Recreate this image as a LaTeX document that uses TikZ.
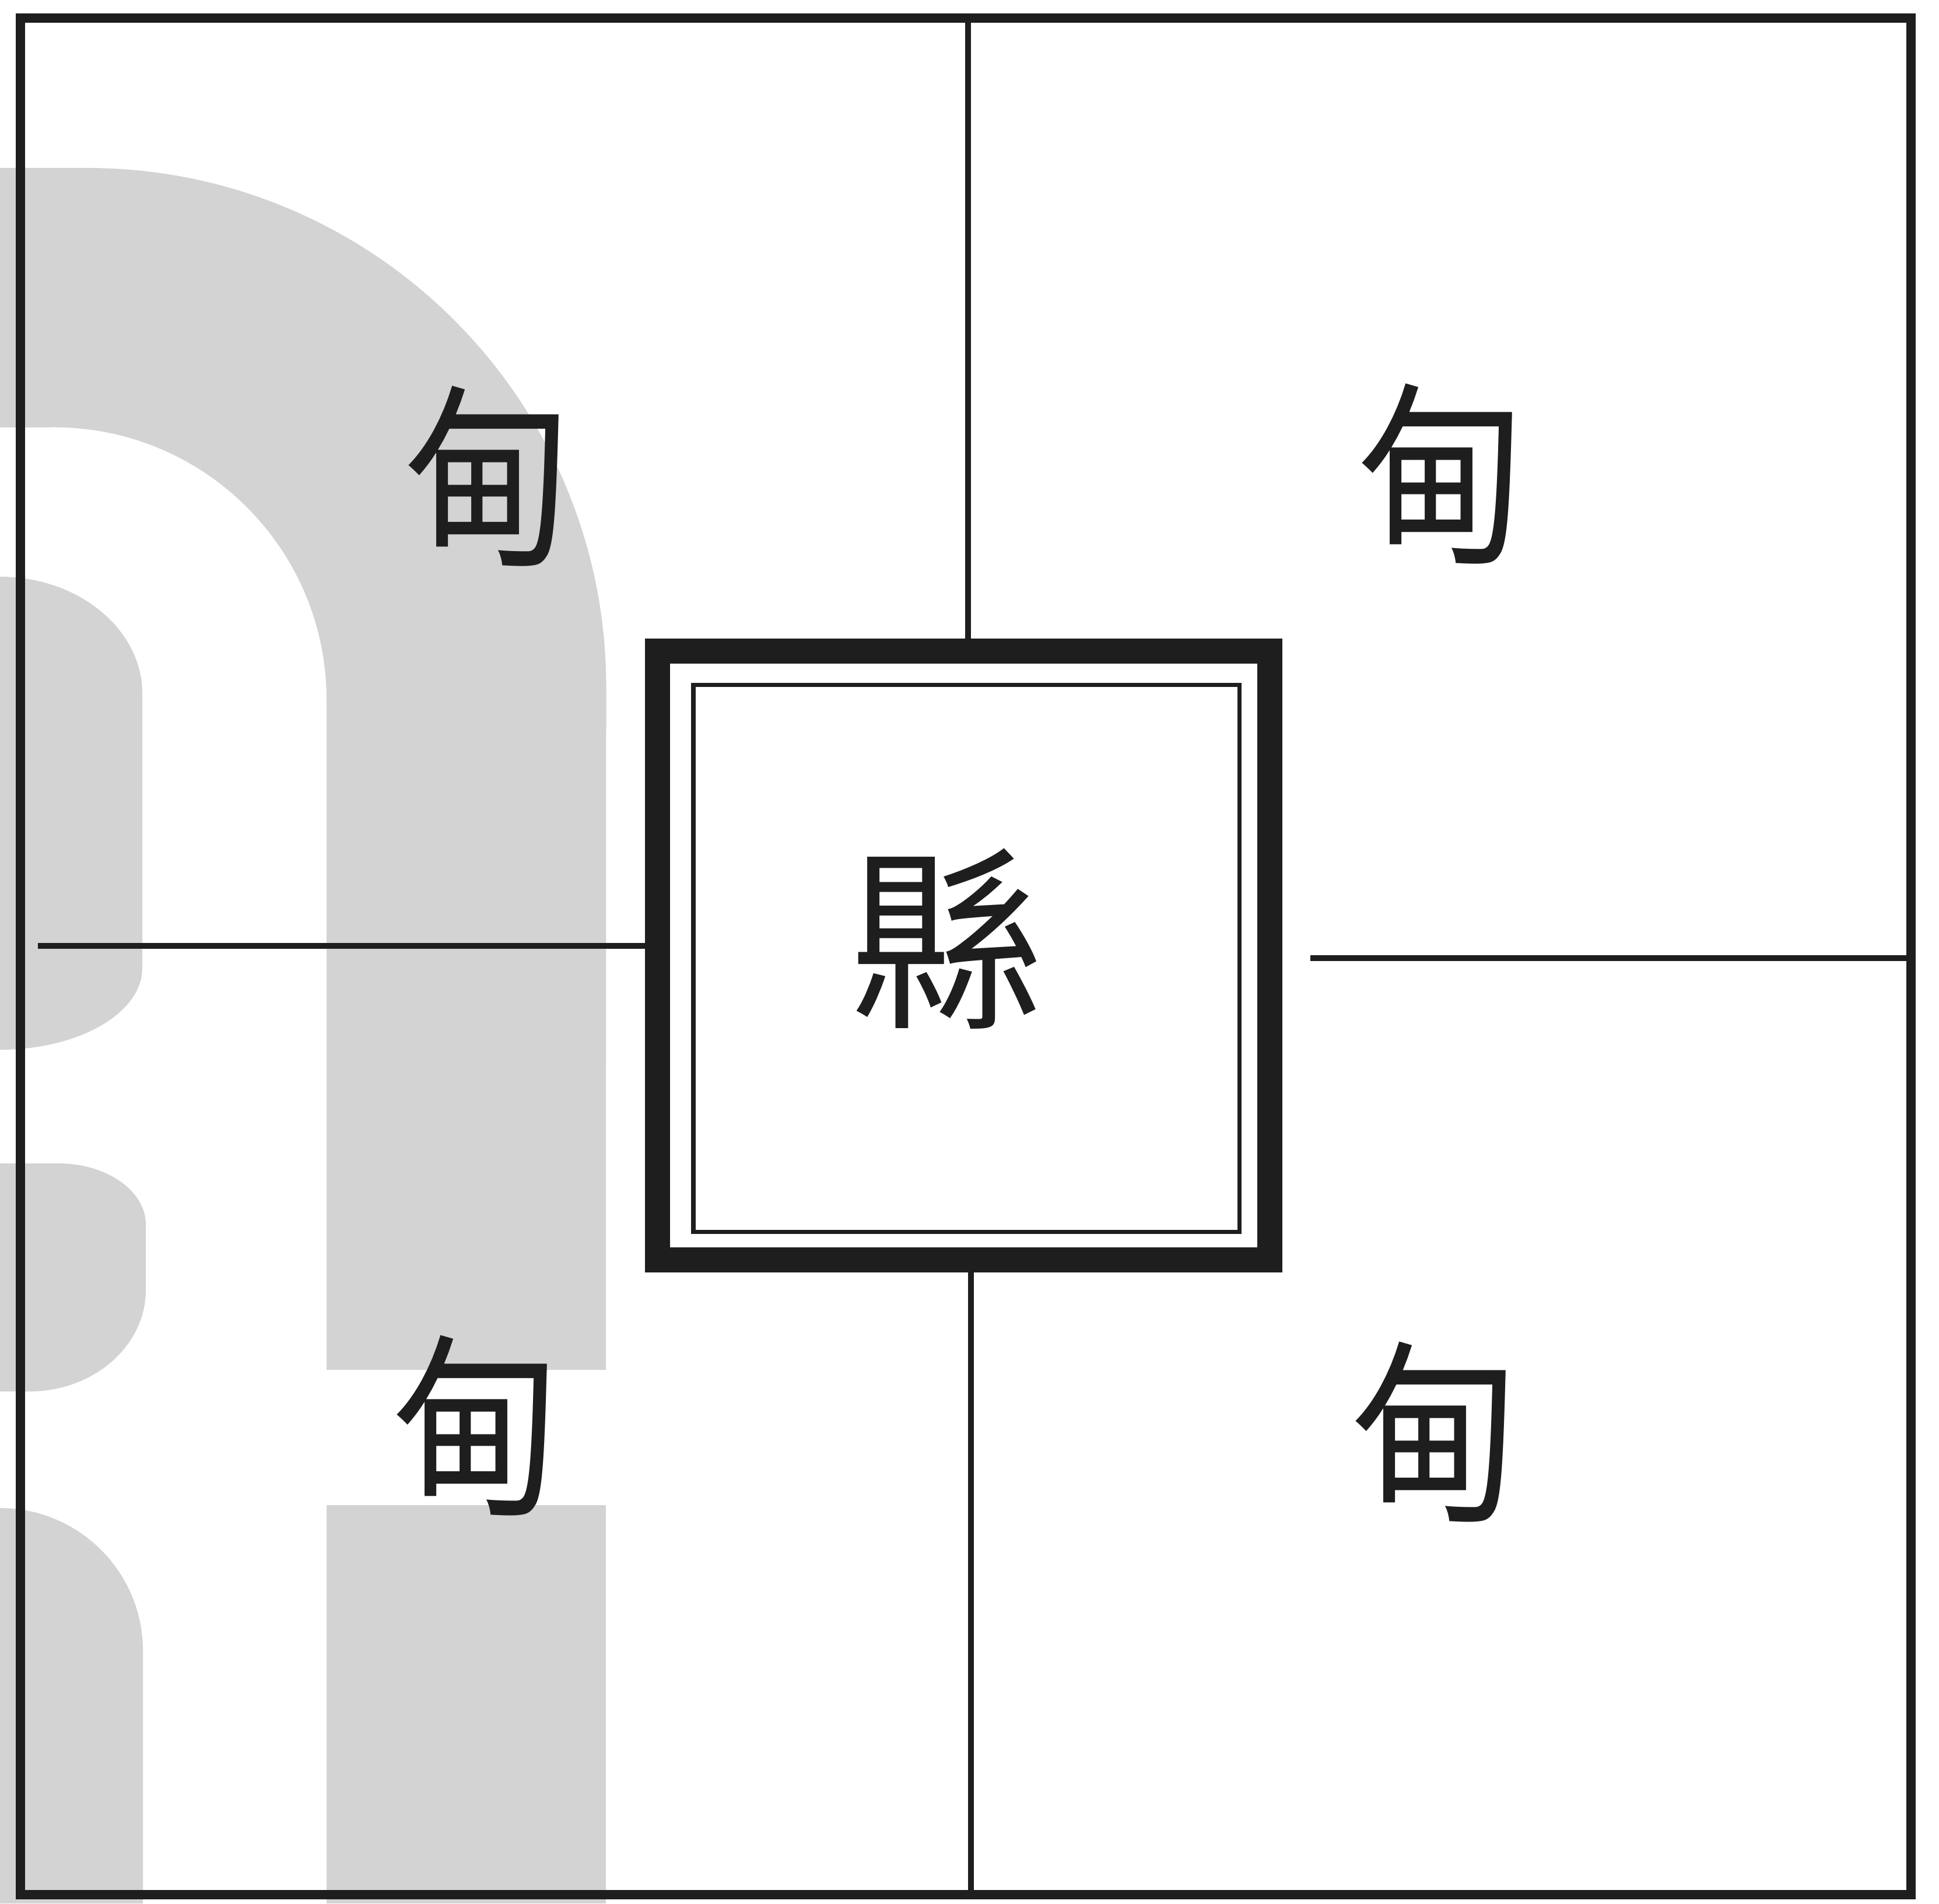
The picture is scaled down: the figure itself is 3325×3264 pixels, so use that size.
\documentclass[tikz,border=0pt]{standalone}
\usepackage{fontspec}
\newfontfamily\cjk{Noto Sans CJK TC}
\definecolor{wm}{RGB}{211,211,211}
\definecolor{inkc}{RGB}{30,30,30}
\newcommand{\narrowch}[1]{\scalebox{0.86}[1]{#1}}
\begin{document}
\begin{tikzpicture}[x=0.01cm,y=-0.01cm,
  frameline/.style={draw=inkc, line width=4.5pt, inner sep=0pt},
  gridline/.style={draw=inkc, line width=2.8pt},
  thickbox/.style={draw=inkc, line width=12.2pt, inner sep=0pt},
  thinbox/.style={draw=inkc, line width=2pt, inner sep=0pt},
  char/.style={inner sep=0pt, font=\cjk\fontsize{95pt}{95pt}\selectfont, text=inkc},
  wmshape/.style={fill=wm, draw=none}]
\useasboundingbox (0,0) rectangle (3325,3264);
\fill[white] (0,0) rectangle (3325,3264);
% light grey watermark shapes
\fill[wmshape] (0,288) -- (149,288) arc[start angle=90,end angle=0,radius=8.9cm]
  -- (1039,2349) -- (560,2349) -- (560,1200)
  arc[start angle=0,end angle=90,radius=4.67cm] -- (0,733) -- cycle;
\fill[wmshape] (0,989) arc[start angle=90,end angle=0,x radius=2.44cm,y radius=2.01cm]
  -- (244,1660) arc[start angle=0,end angle=-90,x radius=2.44cm,y radius=1.40cm] -- cycle;
\fill[wmshape] (0,1995) -- (100,1995) arc[start angle=90,end angle=0,x radius=1.5cm,y radius=1.05cm]
  -- (250,2212) arc[start angle=0,end angle=-90,x radius=2.0cm,y radius=1.74cm] -- (0,2386) -- cycle;
\fill[wmshape] (0,2586) arc[start angle=90,end angle=0,radius=2.45cm] -- (245,3264) -- (0,3264) -- cycle;
\fill[wmshape] (560,2581) rectangle (1039,3264);
% frame
\node[frameline, minimum width=32.40cm, minimum height=32.16cm] (frame) at (1656,1640) {};
% central walled county seat
\node[thickbox, minimum width=10.49cm, minimum height=10.43cm] (xian) at (1652.5,1638.5) {};
\node[thinbox, minimum width=9.355cm, minimum height=9.37cm] (xianin) at (1657,1643.5) {};
\node[char] (xlabel) at (1625,1610) {縣};
% division lines
\coordinate (vt) at (1660,30);
\coordinate (vb) at (1665,3248);
\coordinate (hl) at (65,1622);
\coordinate (hrs) at (2247,1643);
\coordinate (hr) at (3276,1643);
\draw[gridline] (vt) -- (vt |- xian.north);
\draw[gridline] (vb) -- (vb |- xian.south);
\draw[gridline] (hl) -- (hl -| xian.west);
\draw[gridline] (hrs) -- (hr);
% the four dian
\node[char] (d1) at (836,817) {\narrowch{甸}};
\node[char] (d2) at (2471,813) {\narrowch{甸}};
\node[char] (d3) at (816,2445) {\narrowch{甸}};
\node[char] (d4) at (2460,2456) {\narrowch{甸}};
\end{tikzpicture}
\end{document}
